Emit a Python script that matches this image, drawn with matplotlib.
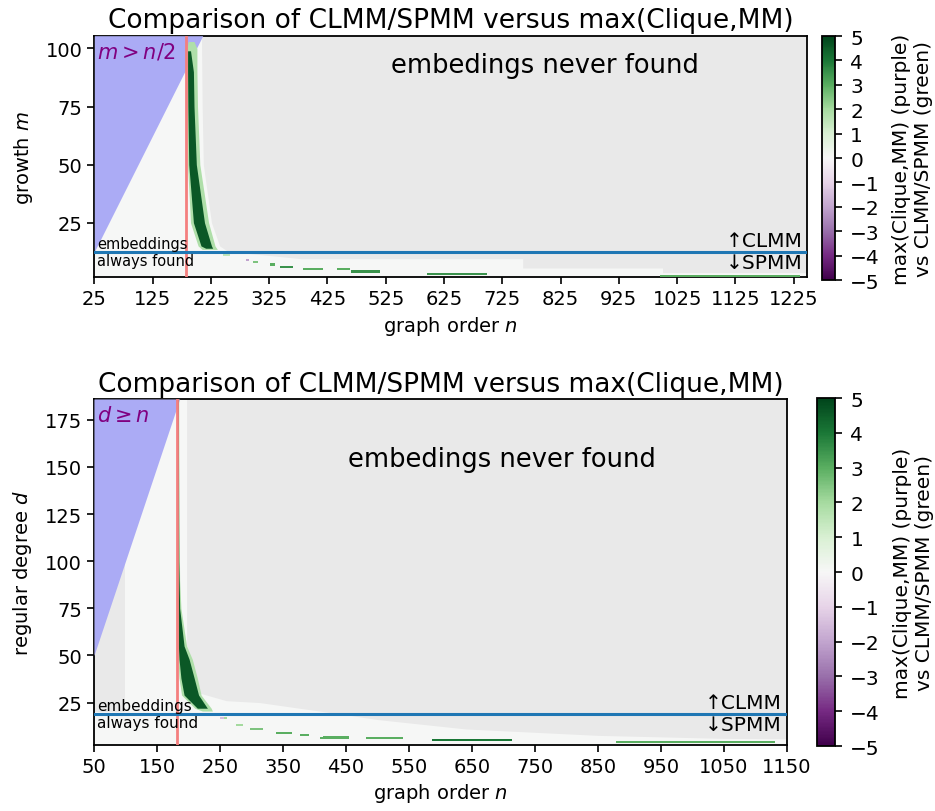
import numpy as np
import matplotlib
matplotlib.use("Agg")
import matplotlib.pyplot as plt
from matplotlib.colors import Normalize
from matplotlib.cm import ScalarMappable

plt.rcParams['font.family'] = ['DejaVu Sans']

# ---------------- data: top panel (growth m vs order n) ----------------
top_xlim = (25, 1248)
top_ylim = (1.5, 105.5)
top_xticks = [25, 125, 225, 325, 425, 525, 625, 725, 825, 925, 1025, 1125, 1225]
top_yticks = [25, 50, 75, 100]
top_clique_n = 182          # red line
top_split_m = 12.5          # CLMM / SPMM split
# infeasible region m > n/2
top_inf_n = [25, 211]
top_inf_m = [12.5, 105.5]
# right edge of region where embeddings are found (value 0)
top_edge_m = [1.5, 3.5, 3.5, 5.5, 5.5, 9.5, 9.5, 11.5, 12.5, 15, 25, 50, 75, 100, 105.5]
top_edge_n = [1248, 1248, 1000, 1000, 760, 760, 380, 300, 255, 240, 226, 212, 210, 209, 209]
# green band (outer light / inner dark)
top_band_m = [13.5, 15, 25, 50, 75, 90, 100, 103]
top_band_lo = [210, 203, 190, 185, 184, 184, 184, 186]
top_band_hi = [236, 232, 221, 206, 202, 201, 201, 196]
top_band_val = 1.8
top_core_m = [14, 15, 25, 50, 75, 90, 99]
top_core_lo = [216, 208, 195, 187, 185.5, 185, 185]
top_core_hi = [228, 226, 214, 200, 196, 195, 190]
top_core_val = 4.6
# sparse trail below the split
top_trail_m = [11, 9, 8, 7, 6, 5, 5, 4, 3, 2]
top_trail_n0 = [246, 285, 298, 327, 344, 383, 441, 466, 596, 996]
top_trail_n1 = [258, 290, 306, 335, 366, 417, 464, 515, 699, 1236]
top_trail_val = [1.5, -2, 2.5, 3, 3.5, 3, 3, 3.5, 3.5, 3]

# ---------------- data: bottom panel (degree d vs order n) ----------------
bot_xlim = (50, 1150)
bot_ylim = (2.5, 186)
bot_xticks = [50, 150, 250, 350, 450, 550, 650, 750, 850, 950, 1050, 1150]
bot_yticks = [25, 50, 75, 100, 125, 150, 175]
bot_clique_n = 181
bot_split_d = 19
bot_inf_n = [50, 186]
bot_inf_d = [50, 186]
# not computed strip (n < 100)
bot_strip_n = [50, 100]
bot_strip_d = [20, 186]
bot_edge_d = [2.5, 5.8, 6, 7.6, 11, 16, 19, 22, 25, 26, 30, 32, 40, 186]
bot_edge_n = [1150, 1150, 1050, 850, 640, 500, 440, 376, 313, 260, 218, 207, 197, 197]
bot_band_d = [20.5, 22, 29, 38, 48, 55, 75, 90, 120, 186]
bot_band_lo = [222, 210, 189, 185, 183.5, 183, 183, 183, 183, 183]
bot_band_hi = [238, 236, 220, 214, 206, 197, 188, 186, 185, 184.5]
bot_band_val = 1.8
bot_core_d = [22, 29, 38, 48, 55, 75, 100, 186]
bot_core_lo = [214, 193, 188, 185, 184, 183.5, 183, 183]
bot_core_hi = [230, 216, 209, 201, 193, 186, 184.5, 184]
bot_core_val = 4.6
bot_trail_d = [17, 17, 13, 11, 9, 8, 7, 6, 6, 5, 4]
bot_trail_n0 = [250, 256, 276, 297, 339, 377, 413, 408, 482, 587, 878]
bot_trail_n1 = [256, 261, 286, 318, 365, 392, 455, 455, 540, 713, 1131]
bot_trail_val = [-1.5, 2, 2, 2.5, 3, 3, 3, 3, 3, 4, 3]

title = "Comparison of CLMM/SPMM versus max(Clique,MM)"
cbar_label = "max(Clique,MM) (purple)\nvs CLMM/SPMM (green)"

cmap = plt.get_cmap('PRGn')
norm = Normalize(vmin=-5, vmax=5)
GRAY = '#e9e9e9'
BLUE_INF = '#ababf5'
RED = '#f47f7f'
FS = 14

fig = plt.figure(figsize=(9.35, 8.12), dpi=100)
ax1 = fig.add_axes([0.1009, 0.6573, 0.7623, 0.2975])
cax1 = fig.add_axes([0.8791, 0.6539, 0.0139, 0.3005])
ax2 = fig.add_axes([0.1005, 0.0813, 0.7412, 0.4261])
cax2 = fig.add_axes([0.8738, 0.0800, 0.0193, 0.4286])


def draw_panel(ax, xlim, ylim, edge_y, edge_x, band, core, trail, inf_x, inf_y,
               clique_n, split_y):
    ax.set_facecolor(GRAY)
    ax.fill_betweenx(edge_y, xlim[0], edge_x, color=cmap(norm(0)), lw=0, zorder=1)
    ax.fill_between(inf_x, inf_y, ylim[1], color=BLUE_INF, lw=0, zorder=3)
    by, blo, bhi, bval = band
    ax.fill_betweenx(by, blo, bhi, color=cmap(norm(bval)), lw=0, zorder=4)
    cy, clo, chi, cval = core
    ax.fill_betweenx(cy, clo, chi, color=cmap(norm(cval)), lw=0, zorder=5)
    ty, t0, t1, tv = trail
    colors = [cmap(norm(v)) for v in tv]
    ax.barh(ty, np.array(t1) - np.array(t0), left=t0, height=1.0,
            color=colors, edgecolor='none', lw=0, zorder=5)
    ax.axvline(clique_n, color=RED, lw=2, zorder=6)
    ax.axhline(split_y, color='#1f77b4', lw=2.2, zorder=7)
    ax.set_xlim(*xlim)
    ax.set_ylim(*ylim)
    ax.tick_params(labelsize=FS, length=5, width=1.2)
    for s in ax.spines.values():
        s.set_linewidth(1.3)
    ax.set_title(title, fontsize=19, pad=6)


draw_panel(ax1, top_xlim, top_ylim, top_edge_m, top_edge_n,
           (top_band_m, top_band_lo, top_band_hi, top_band_val),
           (top_core_m, top_core_lo, top_core_hi, top_core_val),
           (top_trail_m, top_trail_n0, top_trail_n1, top_trail_val),
           top_inf_n, top_inf_m, top_clique_n, top_split_m)
ax1.set_xticks(top_xticks)
ax1.set_yticks(top_yticks)
ax1.set_xlabel("graph order $n$", fontsize=FS)
ax1.set_ylabel("growth $m$", fontsize=FS, labelpad=8)
ax1.text(30, 103.5, "$m > n/2$", color='purple', fontsize=15, va='top', ha='left', zorder=8)
ax1.text(798, 93, "embedings never found", fontsize=18.5, ha='center', va='center', zorder=8)
ax1.text(30, 13.0, "embeddings", fontsize=10.5, ha='left', va='bottom', zorder=8)
ax1.text(30, 12.0, "always found", fontsize=10.5, ha='left', va='top', zorder=8)
ax1.text(1240, 13.2, "↑CLMM", fontsize=14.5, ha='right', va='bottom', zorder=8)
ax1.text(1240, 11.8, "↓SPMM", fontsize=14.5, ha='right', va='top', zorder=8)

# bottom panel
draw_panel(ax2, bot_xlim, bot_ylim, bot_edge_d, bot_edge_n,
           (bot_band_d, bot_band_lo, bot_band_hi, bot_band_val),
           (bot_core_d, bot_core_lo, bot_core_hi, bot_core_val),
           (bot_trail_d, bot_trail_n0, bot_trail_n1, bot_trail_val),
           bot_inf_n, bot_inf_d, bot_clique_n, bot_split_d)
ax2.fill_between(bot_strip_n, bot_strip_d[0], bot_strip_d[1], color=GRAY, lw=0, zorder=2)
ax2.set_xticks(bot_xticks)
ax2.set_yticks(bot_yticks)
ax2.set_xlabel("graph order $n$", fontsize=FS)
ax2.set_ylabel("regular degree $d$", fontsize=FS, labelpad=8)
ax2.text(55, 183, "$d \\geq n$", color='purple', fontsize=15, va='top', ha='left', zorder=8)
ax2.text(697, 154, "embedings never found", fontsize=18.5, ha='center', va='center', zorder=8)
ax2.text(55, 19.6, "embeddings", fontsize=11, ha='left', va='bottom', zorder=8)
ax2.text(55, 18.4, "always found", fontsize=11, ha='left', va='top', zorder=8)
ax2.text(1142, 19.8, "↑CLMM", fontsize=14.5, ha='right', va='bottom', zorder=8)
ax2.text(1142, 18.2, "↓SPMM", fontsize=14.5, ha='right', va='top', zorder=8)

for cax in (cax1, cax2):
    sm = ScalarMappable(norm=norm, cmap=cmap)
    cb = fig.colorbar(sm, cax=cax, ticks=list(range(-5, 6)))
    cb.ax.tick_params(labelsize=FS + 0.5, length=5, width=1.2, pad=6)
    cb.outline.set_linewidth(1.3)
    cb.set_label(cbar_label, fontsize=FS + 0.5, labelpad=9)

fig.savefig("out.png", dpi=100)
